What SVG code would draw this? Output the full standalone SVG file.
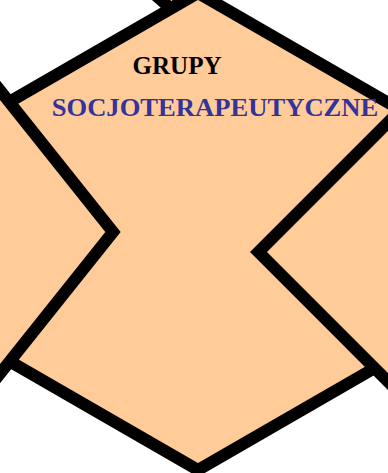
<svg xmlns="http://www.w3.org/2000/svg" width="388" height="473" viewBox="0 0 388 473">
  <style>
    .hex { fill: #FFCC99; stroke: #000000; stroke-width: 12; stroke-linejoin: miter; }
    .t { font-family: "Liberation Serif", "Times New Roman", serif; font-weight: bold; font-size: 26px; }
  </style>
  <rect width="388" height="473" fill="#FFFFFF"/>
  <g id="node-top">
    <polygon class="hex" points="70,-80 174.7,12 205,-80"/>
  </g>
  <g id="node-center">
    <polygon class="hex" points="198,-7 404.5,112.2 404.5,350.8 198,470 -8.5,350.8 -8.5,112.2"/>
    <text class="t" x="132.5" y="74" fill="#000000" textLength="89" lengthAdjust="spacingAndGlyphs">GRUPY</text>
    <text class="t" x="51.7" y="116" fill="#333399" textLength="326.6" lengthAdjust="spacingAndGlyphs">SOCJOTERAPEUTYCZNE</text>
  </g>
  <g id="node-left">
    <polygon class="hex" points="-100,-35 113,232 -100,499"/>
  </g>
  <g id="node-right">
    <polygon class="hex" points="500,10.5 258.5,252 500,493.5"/>
  </g>
  <g id="connectors"/>
</svg>
